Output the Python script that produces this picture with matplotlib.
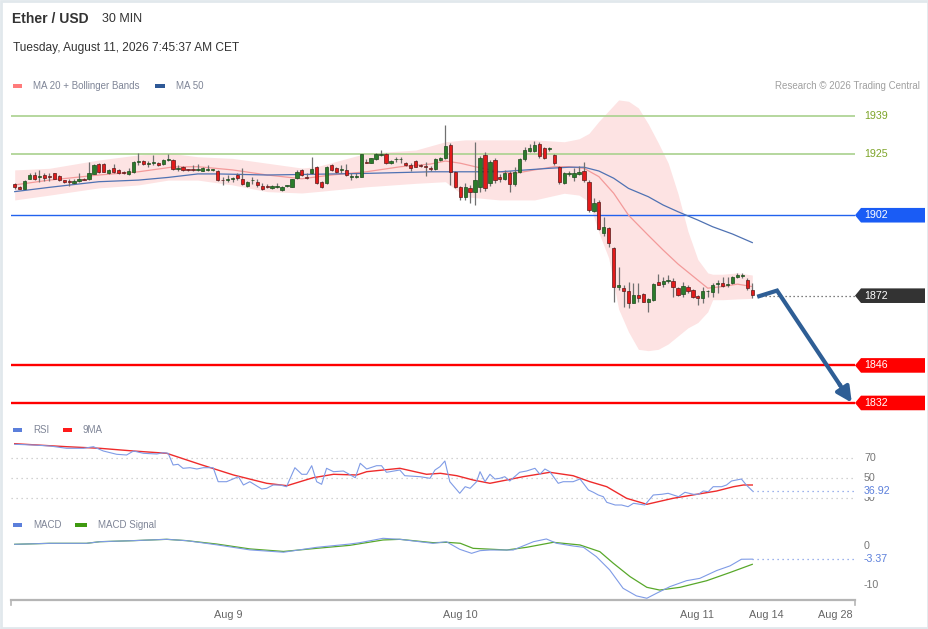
import matplotlib
matplotlib.use('Agg')
import matplotlib.pyplot as plt
import matplotlib.transforms as mtrans
from matplotlib.patches import Polygon, Rectangle
import numpy as np

plt.rcParams['font.family'] = ['Liberation Sans', 'DejaVu Sans']

# ---------------- data ----------------
opens = [1913.5, 1912.5, 1911.9, 1915.5, 1917.0, 1916.4, 1917.0, 1916.8, 1917.6, 1916.6,
         1915.1, 1914.5, 1914.1, 1914.8, 1915.6, 1915.5, 1917.4, 1921.1, 1921.1, 1917.6,
         1919.5, 1918.9, 1918.3, 1917.4, 1918.0, 1921.9, 1922.3, 1921.2, 1921.5, 1921.4,
         1921.1, 1922.7, 1922.6, 1919.4, 1919.9, 1919.0, 1919.0, 1918.9, 1918.6, 1919.0,
         1918.8, 1918.6, 1915.2, 1915.3, 1915.4, 1917.0, 1915.5, 1912.9, 1915.0, 1914.5,
         1913.0, 1912.7, 1912.0, 1912.5, 1911.4, 1912.8, 1912.6, 1915.8, 1918.9, 1916.4,
         1917.6, 1919.9, 1914.5, 1913.9, 1920.7, 1919.5, 1918.8, 1918.9, 1916.3, 1916.3,
         1916.4, 1921.8, 1921.6, 1922.9, 1924.6, 1924.8, 1921.4, 1922.8, 1922.8, 1921.6,
         1920.7, 1922.2, 1920.6, 1920.2, 1919.6, 1919.3, 1922.5, 1923.3, 1928.2, 1918.2,
         1912.65, 1908.7, 1912.0, 1910.8, 1912.6, 1924.5, 1913.9, 1922.6, 1916.4, 1915.4,
         1917.9, 1913.6, 1918.2, 1922.8, 1926.0, 1925.8, 1928.5, 1926.9, 1926.6, 1924.5,
         1920.1, 1914.1, 1917.4, 1916.1, 1917.5, 1918.6, 1914.5, 1903.7, 1907.1, 1895.3,
         1897.1, 1889.6, 1875.1, 1874.7, 1873.7, 1869.4, 1872.3, 1872.5, 1869.8, 1870.4,
         1877.2, 1876.4, 1877.4, 1877.6, 1874.7, 1872.6, 1875.1, 1874.1, 1872.0, 1871.0,
         1873.6, 1873.5, 1876.3, 1876.6, 1876.0, 1876.9, 1878.9, 1879.5, 1877.8, 1874.1]
highs = [1914.1, 1912.9, 1915.1, 1917.6, 1918.2, 1918.9, 1917.6, 1917.9, 1917.9, 1917.0,
         1915.3, 1915.4, 1915.4, 1917.6, 1916.0, 1922.0, 1921.1, 1921.3, 1921.3, 1919.2,
         1921.1, 1919.2, 1918.6, 1919.5, 1922.4, 1925.1, 1922.6, 1922.3, 1924.5, 1922.0,
         1923.0, 1924.8, 1923.0, 1920.7, 1920.2, 1919.3, 1920.7, 1921.1, 1919.8, 1920.7,
         1919.3, 1918.9, 1916.1, 1917.0, 1916.4, 1917.6, 1919.5, 1914.8, 1916.1, 1915.4,
         1913.9, 1913.6, 1913.2, 1913.9, 1912.9, 1913.3, 1915.6, 1918.9, 1919.1, 1917.6,
         1923.6, 1920.2, 1914.8, 1920.4, 1921.1, 1919.8, 1920.7, 1921.0, 1917.6, 1917.6,
         1925.0, 1922.9, 1923.5, 1925.1, 1926.3, 1925.1, 1922.6, 1923.6, 1923.6, 1922.0,
         1921.6, 1922.5, 1921.0, 1921.9, 1920.3, 1923.2, 1923.8, 1935.6, 1928.8, 1918.5,
         1913.0, 1913.9, 1913.3, 1929.4, 1924.0, 1925.5, 1922.5, 1923.5, 1917.5, 1919.0,
         1918.5, 1920.0, 1923.2, 1927.5, 1928.5, 1929.8, 1929.4, 1927.5, 1927.6, 1925.0,
         1920.5, 1918.2, 1918.5, 1919.5, 1920.3, 1922.0, 1915.0, 1908.3, 1907.5, 1901.5,
         1897.7, 1890.0, 1882.8, 1876.0, 1877.2, 1876.6, 1876.6, 1873.0, 1871.0, 1876.9,
         1880.1, 1879.1, 1879.7, 1878.5, 1875.1, 1877.2, 1875.8, 1874.5, 1872.3, 1875.3,
         1874.1, 1876.6, 1877.8, 1879.1, 1879.1, 1879.4, 1880.6, 1880.6, 1878.5, 1876.6]
lows = [1911.8, 1911.6, 1911.8, 1915.4, 1915.1, 1914.5, 1914.9, 1914.8, 1915.4, 1914.9,
        1914.1, 1912.9, 1913.6, 1914.5, 1915.0, 1915.3, 1917.2, 1917.8, 1918.0, 1917.4,
        1917.6, 1917.4, 1917.4, 1917.1, 1917.6, 1920.7, 1920.8, 1920.1, 1920.7, 1920.5,
        1920.9, 1922.3, 1918.9, 1918.6, 1918.6, 1918.5, 1918.6, 1918.6, 1918.4, 1918.6,
        1918.5, 1914.9, 1913.3, 1914.5, 1914.5, 1915.1, 1913.3, 1912.7, 1913.6, 1912.6,
        1911.4, 1912.0, 1911.8, 1912.0, 1911.2, 1912.4, 1912.4, 1915.5, 1916.8, 1915.4,
        1917.4, 1913.6, 1912.0, 1913.6, 1918.6, 1917.8, 1917.9, 1916.8, 1915.1, 1915.7,
        1916.2, 1921.4, 1921.3, 1922.6, 1924.2, 1921.2, 1921.2, 1922.0, 1921.4, 1920.4,
        1918.6, 1919.9, 1920.0, 1916.6, 1918.6, 1919.0, 1922.2, 1923.0, 1913.3, 1912.0,
        1907.7, 1907.7, 1906.4, 1905.8, 1910.8, 1911.0, 1913.0, 1913.9, 1914.5, 1915.0,
        1910.8, 1913.0, 1917.8, 1922.3, 1925.5, 1925.5, 1923.5, 1922.8, 1926.0, 1920.8,
        1913.5, 1913.8, 1916.5, 1914.6, 1917.0, 1914.5, 1903.3, 1903.3, 1896.5, 1894.3,
        1890.3, 1869.8, 1874.1, 1867.9, 1867.3, 1869.1, 1869.8, 1869.5, 1866.0, 1870.0,
        1876.0, 1875.3, 1876.6, 1871.6, 1871.8, 1871.6, 1873.0, 1871.2, 1868.5, 1869.1,
        1871.6, 1871.6, 1872.9, 1875.3, 1875.3, 1876.5, 1878.5, 1878.5, 1874.1, 1871.0]
closes = [1912.4, 1911.9, 1914.9, 1917.1, 1915.5, 1916.5, 1916.0, 1916.2, 1915.5, 1915.1,
          1914.4, 1914.3, 1914.9, 1915.5, 1915.2, 1917.6, 1920.7, 1918.0, 1918.1, 1918.9,
          1918.0, 1917.6, 1917.7, 1918.6, 1922.0, 1922.1, 1921.1, 1921.4, 1921.7, 1920.9,
          1922.6, 1922.9, 1919.1, 1919.6, 1918.9, 1918.8, 1918.8, 1919.0, 1919.5, 1919.2,
          1919.0, 1915.1, 1915.0, 1915.5, 1915.6, 1915.8, 1913.5, 1914.5, 1915.2, 1913.3,
          1911.8, 1912.5, 1912.9, 1912.7, 1912.6, 1913.0, 1915.4, 1918.2, 1917.0, 1915.8,
          1919.1, 1913.9, 1912.6, 1920.1, 1918.9, 1918.0, 1919.0, 1917.0, 1916.5, 1916.5,
          1924.8, 1921.6, 1923.2, 1924.8, 1924.8, 1921.4, 1922.3, 1923.0, 1923.0, 1920.7,
          1919.7, 1920.1, 1920.4, 1920.0, 1919.4, 1922.9, 1923.3, 1927.9, 1918.2, 1912.65,
          1908.7, 1912.6, 1910.8, 1915.1, 1923.2, 1912.0, 1922.0, 1915.1, 1915.4, 1917.9,
          1913.6, 1918.2, 1922.8, 1926.5, 1927.0, 1928.3, 1924.1, 1923.5, 1926.9, 1921.3,
          1914.5, 1917.6, 1917.7, 1917.6, 1918.3, 1915.1, 1903.9, 1906.4, 1896.7, 1897.7,
          1891.5, 1875.1, 1876.0, 1873.9, 1869.4, 1872.3, 1871.0, 1869.8, 1870.6, 1876.4,
          1876.0, 1877.6, 1877.8, 1875.1, 1872.3, 1875.6, 1873.9, 1871.6, 1871.0, 1873.9,
          1873.8, 1876.0, 1876.5, 1875.6, 1876.2, 1879.1, 1879.7, 1879.8, 1874.7, 1872.3]

bb_idx = [0, 7, 17, 25, 31, 37, 44, 51, 58, 61, 71, 81, 87, 91, 98, 105, 111, 114, 116, 118,
          120, 122, 124, 126, 128, 130, 132, 134, 136, 138, 140, 141, 143, 146, 149]
bb_upper = [1918.9, 1919.5, 1922.6, 1924.5, 1925.2, 1923.8, 1923.2, 1921.4, 1919.6, 1920.1,
            1925.1, 1926.3, 1929.4, 1930.1, 1930.1, 1930.1, 1929.4, 1930.5, 1932.5, 1937.0,
            1941.0, 1945.0, 1944.5, 1942.0, 1936.0, 1929.0, 1921.5, 1910.0, 1896.0, 1885.5,
            1880.5, 1880.0, 1880.0, 1880.5, 1879.7]
bb_lower = [1907.7, 1909.5, 1912.2, 1913.3, 1915.1, 1915.1, 1913.3, 1910.8, 1910.3, 1910.8,
            1912.6, 1913.9, 1914.5, 1908.9, 1907.7, 1907.7, 1910.2, 1909.5, 1907.1, 1895.5,
            1886.0, 1867.0, 1858.5, 1852.0, 1851.5, 1852.0, 1854.0, 1857.0, 1860.0, 1862.0,
            1866.0, 1870.5, 1870.5, 1870.8, 1871.0]

ma20_idx = [0, 7, 17, 25, 32, 37, 44, 51, 58, 64, 71, 78, 84, 87, 90, 93, 98, 101, 105, 109,
            112, 115, 118, 121, 124, 128, 131, 134, 137, 140, 143, 146, 149]
ma20_val = [1913.3, 1915.1, 1917.0, 1918.2, 1920.0, 1920.1, 1918.9, 1917.0, 1915.6, 1917.0,
            1918.2, 1920.1, 1921.1, 1922.2, 1921.4, 1920.1, 1918.2, 1917.6, 1918.9, 1920.1,
            1920.1, 1919.5, 1916.4, 1910.2, 1902.0, 1894.5, 1889.0, 1883.8, 1879.3, 1874.8,
            1875.4, 1876.3, 1875.4]

ma50_idx = [0, 7, 17, 25, 31, 37, 41, 51, 58, 71, 84, 98, 108, 112, 115, 118, 121, 124, 128,
            131, 134, 138, 141, 145, 149]
ma50_val = [1910.8, 1912.4, 1914.5, 1915.1, 1916.1, 1917.4, 1917.4, 1917.0, 1917.2, 1917.6,
            1918.2, 1918.2, 1919.5, 1919.9, 1919.9, 1918.5, 1915.8, 1912.0, 1908.9, 1905.8,
            1903.3, 1900.2, 1897.7, 1895.0, 1891.8]

rsi_idx = [0, 3.8, 7.1, 10.5, 13.9, 15.9, 17.9, 20.6, 22.6, 24, 26, 28.7, 30, 31, 32, 33, 34,
           35.4, 36.8, 38.1, 40.1, 41.1, 42.8, 45.2, 46.2, 47.5, 49.9, 50.9, 52.2, 53.6, 54.9,
           56.6, 58, 59, 60, 61, 62, 63, 64.4, 66.4, 68.8, 69.8, 71.1, 73.1, 74.1, 75.1, 77.8,
           78.8, 81.9, 83.9, 84.9, 85.9, 86.9, 87.9, 89.9, 91, 92, 93.3, 94, 95, 96, 97, 98,
           99, 100, 102, 103.4, 105.1, 106.1, 107.1, 108.1, 109.8, 110.8, 112.8, 114.2, 115.9,
           116.9, 117.9, 118.9, 119.6, 121.3, 122.6, 123.9, 125, 127.3, 129, 130.7, 132, 134.1,
           135.4, 137.1, 138.1, 139.1, 140.1, 141.1, 142.8, 143.8, 144.8, 145.8, 146.8, 147.8,
           149]
rsi_val = [83.4, 82.7, 81.7, 79.4, 79.4, 81.0, 76.7, 73.4, 72.7, 76.7, 74.4, 73.7, 75.0, 74.4,
           62.7, 63.4, 59.4, 60.0, 58.7, 60.0, 60.0, 46.0, 46.0, 51.0, 42.7, 46.0, 38.7, 39.4,
           42.7, 42.7, 41.0, 60.0, 53.4, 53.4, 62.0, 46.0, 43.4, 59.4, 56.0, 56.7, 50.0, 64.4,
           58.7, 62.0, 62.0, 55.4, 57.7, 52.0, 51.0, 49.4, 57.7, 61.0, 66.7, 46.0, 34.4, 41.0,
           39.4, 46.0, 56.0, 46.0, 53.4, 48.7, 49.4, 51.0, 46.7, 55.4, 56.7, 59.4, 53.4, 58.7,
           56.0, 44.4, 46.0, 46.0, 48.7, 37.7, 35.4, 32.7, 31.0, 25.4, 22.7, 22.7, 21.0, 24.4,
           22.7, 32.7, 33.4, 34.4, 31.0, 35.4, 33.4, 33.4, 36.7, 36.0, 41.0, 41.0, 42.7, 46.7,
           47.7, 48.7, 42.7, 36.92]
rsi_ma_idx = [0, 10.5, 17.2, 24, 30.7, 37.4, 44.2, 50.9, 55, 60.3, 64.4, 69.1, 71.1, 77.8,
              83.2, 86, 89.3, 92.6, 96, 99.4, 102.7, 108.1, 112.8, 116.2, 119.6, 123.6, 127.7,
              133, 137.8, 141.8, 145.2, 147.2, 149]
rsi_ma_val = [84.0, 81.0, 79.4, 76.7, 74.4, 63.4, 52.7, 44.4, 42.0, 50.0, 53.4, 52.7, 56.0,
              59.4, 53.4, 54.4, 52.0, 47.7, 44.4, 47.7, 51.0, 55.4, 52.0, 46.0, 41.0, 29.4,
              23.4, 29.4, 33.4, 36.7, 41.0, 42.7, 42.7]

macd_idx = [0, 7, 14.5, 17.2, 24, 30.7, 34.7, 40.8, 47.5, 54.3, 61, 67.7, 69.7, 74.4, 77.8,
            84.5, 87.2, 89.9, 92.3, 94, 96, 100.7, 104.8, 107.4, 109.5, 112.8, 114.9, 117.5,
            120.2, 122.9, 125.6, 127.7, 129.7, 132.4, 135.7, 138.4, 141.8, 144.5, 146.8, 149]
macd_val = [0.43, 0.68, 0.68, 1.1, 1.37, 1.71, 1.37, 0.3, -1.0, -1.6, -0.34, 0.5, 0.85, 1.97,
            1.71, 0.68, 1.1, -0.85, -1.88, -1.2, -1.03, -1.03, 1.1, 1.8, 0.68, 0.0, -0.34,
            -2.73, -6.15, -10.85, -12.8, -13.4, -12.1, -10.4, -8.9, -8.3, -6.3, -5.1, -3.4,
            -3.37]
sig_idx = [0, 7, 14.5, 17.2, 24, 30.7, 34.7, 40.8, 47.5, 54.3, 61, 67.7, 74.4, 77.8, 84.5,
           87.3, 90, 92.6, 99.4, 103.4, 108.8, 114.2, 118.2, 120.9, 124.3, 127.7, 130.3, 134.4,
           139.8, 144.5, 149]
sig_val = [0.43, 0.68, 0.68, 1.1, 1.37, 1.71, 1.37, 0.5, -0.75, -1.4, -0.6, 0.17, 1.54, 1.71,
           0.85, 0.94, 0.7, -0.6, -1.03, -0.34, 0.94, 0.26, -1.45, -4.4, -7.85, -10.6, -11.3,
           -10.6, -8.9, -6.8, -4.7]

resistance_levels = [1939, 1925]
pivot_level = 1902
last_price = 1872
support_levels = [1846, 1832]
rsi_guides = [70, 50, 30]
rsi_last = 36.92
macd_guides = [0, -10]
macd_last = -3.37
forecast_x = [150, 154, 169.1]
forecast_y = [1871.6, 1873.9, 1832.1]
tick_pos = [43.1, 90, 137.8, 151.9, 165.8]
tick_labels = ['Aug 9', 'Aug 10', 'Aug 11', 'Aug 14', 'Aug 28']

# ---------------- layout ----------------
W, H = 929, 629
fig = plt.figure(figsize=(W / 100, H / 100), dpi=100)
fig.patch.set_facecolor('white')


def fx(px):
    return px / W


def fy(py):
    return 1 - py / H


def rect(x0, y0, x1, y1):
    return [fx(x0), fy(y1), (x1 - x0) / W, (y1 - y0) / H]


XL = (-0.75, 169.75)
ax = fig.add_axes(rect(11, 92, 855, 412))
ax.set_xlim(*XL)
ax.set_ylim(1828.63, 1947.95)
ax.axis('off')

ax2 = fig.add_axes(rect(11, 437, 855, 512))
ax2.set_xlim(*XL)
ax2.set_ylim(15.7, 90.7)
ax2.axis('off')

ax3 = fig.add_axes(rect(11, 530, 855, 600))
ax3.set_xlim(*XL)
ax3.set_ylim(-13.85, 4.10)
for s in ['top', 'left', 'right']:
    ax3.spines[s].set_visible(False)
ax3.spines['bottom'].set_color('#b5b5b5')
ax3.spines['bottom'].set_linewidth(1.6)
ax3.set_yticks([])
ax3.set_xticks(tick_pos, tick_labels)
ax3.tick_params(axis='x', length=0, pad=7, labelsize=7.8, labelcolor='#666666')
ax3.patch.set_alpha(0)
for xe in (0, 1):
    ax3.plot([xe, xe], [0, -0.075], transform=ax3.transAxes, color='#b5b5b5', lw=1.2,
             clip_on=False)

# ---------------- main panel ----------------
ax.fill_between(bb_idx, bb_lower, bb_upper, color='#fde3e3', lw=0, zorder=1)
ax.plot(ma20_idx, ma20_val, color='#f39a9a', lw=0.9, zorder=2)
ax.plot(ma50_idx, ma50_val, color='#4f72b3', lw=0.9, zorder=2)

for lv in resistance_levels:
    ax.axhline(lv, color='#a9d18e', lw=1.2, zorder=1.5)
ax.axhline(pivot_level, color='#2262ee', lw=1.0, zorder=1.5)
for lv in support_levels:
    ax.axhline(lv, color='#ff0000', lw=1.7, zorder=1.5)

x = np.arange(len(closes))
o = np.array(opens)
c = np.array(closes)
up = c >= o
blo = np.minimum(o, c)
bh = np.maximum(np.abs(c - o), 0.3)
ax.vlines(x, lows, highs, color='#707070', lw=0.9, zorder=3)
ax.bar(x[up], bh[up], bottom=blo[up], width=0.66, color='#2b7c2b', edgecolor='#1c4a1c',
       lw=0.5, zorder=4)
ax.bar(x[~up], bh[~up], bottom=blo[~up], width=0.66, color='#e31b1b', edgecolor='#5a1a1a',
       lw=0.5, zorder=4)

ax.plot([forecast_x[0], XL[1]], [last_price, last_price], color='#555555', lw=0.9,
        ls=(0, (1, 2.2)), zorder=2)

ac = '#2e5e95'
t = 0.85
mid_x = forecast_x[1] + t * (forecast_x[2] - forecast_x[1])
mid_y = forecast_y[1] + t * (forecast_y[2] - forecast_y[1])
ax.plot([forecast_x[0], forecast_x[1], mid_x], [forecast_y[0], forecast_y[1], mid_y],
        color=ac, lw=3, solid_joinstyle='miter', solid_capstyle='butt', zorder=6,
        clip_on=False)
ax.annotate('', xy=(forecast_x[2], forecast_y[2]), xytext=(mid_x - 0.2, mid_y + 0.55),
            arrowprops=dict(arrowstyle='-|>,head_length=0.9,head_width=0.45', color=ac, lw=3,
                            shrinkA=0, shrinkB=0),
            annotation_clip=False, zorder=6)

blend = mtrans.blended_transform_factory(fig.transFigure, ax.transData)
for lv in resistance_levels:
    ax.text(fx(864), lv, str(lv), transform=blend, fontsize=7.7, color='#7da428',
            va='center', ha='left', clip_on=False)

hh = 7.3 / 2.682


def tag(level, color):
    verts = [(fx(855), level), (fx(861), level + hh), (fx(925), level + hh),
             (fx(925), level - hh), (fx(861), level - hh)]
    p = Polygon(verts, closed=True, transform=blend, facecolor=color, edgecolor='none',
                clip_on=False, zorder=7)
    ax.add_patch(p)
    ax.text(fx(864), level, str(level), transform=blend, fontsize=7.7, color='white',
            va='center', ha='left', clip_on=False, zorder=8)


tag(pivot_level, '#1a5cf5')
tag(last_price, '#333333')
for lv in support_levels:
    tag(lv, '#ff0000')

# ---------------- RSI ----------------
for g in rsi_guides:
    ax2.axhline(g, color='#c4c4c4', lw=0.9, ls=(0, (1, 3)))
ax2.plot(rsi_idx, rsi_val, color='#7f9be6', lw=0.8, zorder=3)
ax2.plot(rsi_ma_idx, rsi_ma_val, color='#ee2b2b', lw=1.0, zorder=2)
ax2.plot([rsi_idx[-1], XL[1]], [rsi_last, rsi_last], color='#7f9be6', lw=0.9,
         ls=(0, (1, 3)))
b2 = mtrans.blended_transform_factory(fig.transFigure, ax2.transData)
for g in rsi_guides:
    ax2.text(fx(864), g, str(g), transform=b2, fontsize=7.7, color='#777777', va='center',
             ha='left', clip_on=False)
ax2.text(fx(864), rsi_last, f'{rsi_last:.2f}', transform=b2, fontsize=7.7, color='#5b7fdb',
         va='center', ha='left', clip_on=False, zorder=5,
         bbox=dict(boxstyle='square,pad=0.1', facecolor='white', edgecolor='none'))

# ---------------- MACD ----------------
ax3.plot(macd_idx, macd_val, color='#7f9be6', lw=0.8, zorder=3)
ax3.plot(sig_idx, sig_val, color='#58a82a', lw=0.9, zorder=2)
ax3.plot([macd_idx[-1], XL[1]], [macd_last, macd_last], color='#7f9be6', lw=0.9,
         ls=(0, (1, 3)))
b3 = mtrans.blended_transform_factory(fig.transFigure, ax3.transData)
for g in macd_guides:
    ax3.text(fx(864), g, str(g), transform=b3, fontsize=7.7, color='#777777', va='center',
             ha='left', clip_on=False)
ax3.text(fx(864), macd_last, f'{macd_last:.2f}', transform=b3, fontsize=7.7,
         color='#5b7fdb', va='center', ha='left', clip_on=False)

# ---------------- header / legends ----------------
fig.text(fx(12), fy(19), 'Ether / USD', fontsize=10, fontweight='bold', color='#333333',
         va='center', ha='left')
fig.text(fx(102), fy(19), '30 MIN', fontsize=9, color='#333333', va='center', ha='left')
fig.text(fx(13), fy(48), 'Tuesday, August 11, 2026 7:45:37 AM CET', fontsize=8.6,
         color='#333333', va='center', ha='left')
fig.text(fx(920), fy(86), 'Research \u00a9 2026 Trading Central', fontsize=7,
         color='#a0a0a0', va='center', ha='right')


def legend_item(x0, y, color, label, sw=9):
    fig.add_artist(Rectangle((fx(x0), fy(y + 2)), sw / W, 4 / H, transform=fig.transFigure,
                             facecolor=color, edgecolor='none'))
    fig.text(fx(x0 + sw + 11), fy(y), label, fontsize=7, color='#7f8597', va='center',
             ha='left')


legend_item(13, 86, '#ff7b7b', 'MA 20 + Bollinger Bands')
legend_item(155, 86, '#2f5997', 'MA 50', sw=10)
legend_item(13, 430, '#5b7fdb', 'RSI')
legend_item(63, 430, '#ff1a1a', '9MA')
legend_item(13, 525, '#5b7fdb', 'MACD')
legend_item(75, 525, '#3f9a10', 'MACD Signal', sw=12)

fig.add_artist(Rectangle((0.001, 0.0015), 0.998, 0.997, transform=fig.transFigure,
                         fill=False, edgecolor='#e1e8ec', lw=2))

fig.savefig('out.png', dpi=100, facecolor='white')
